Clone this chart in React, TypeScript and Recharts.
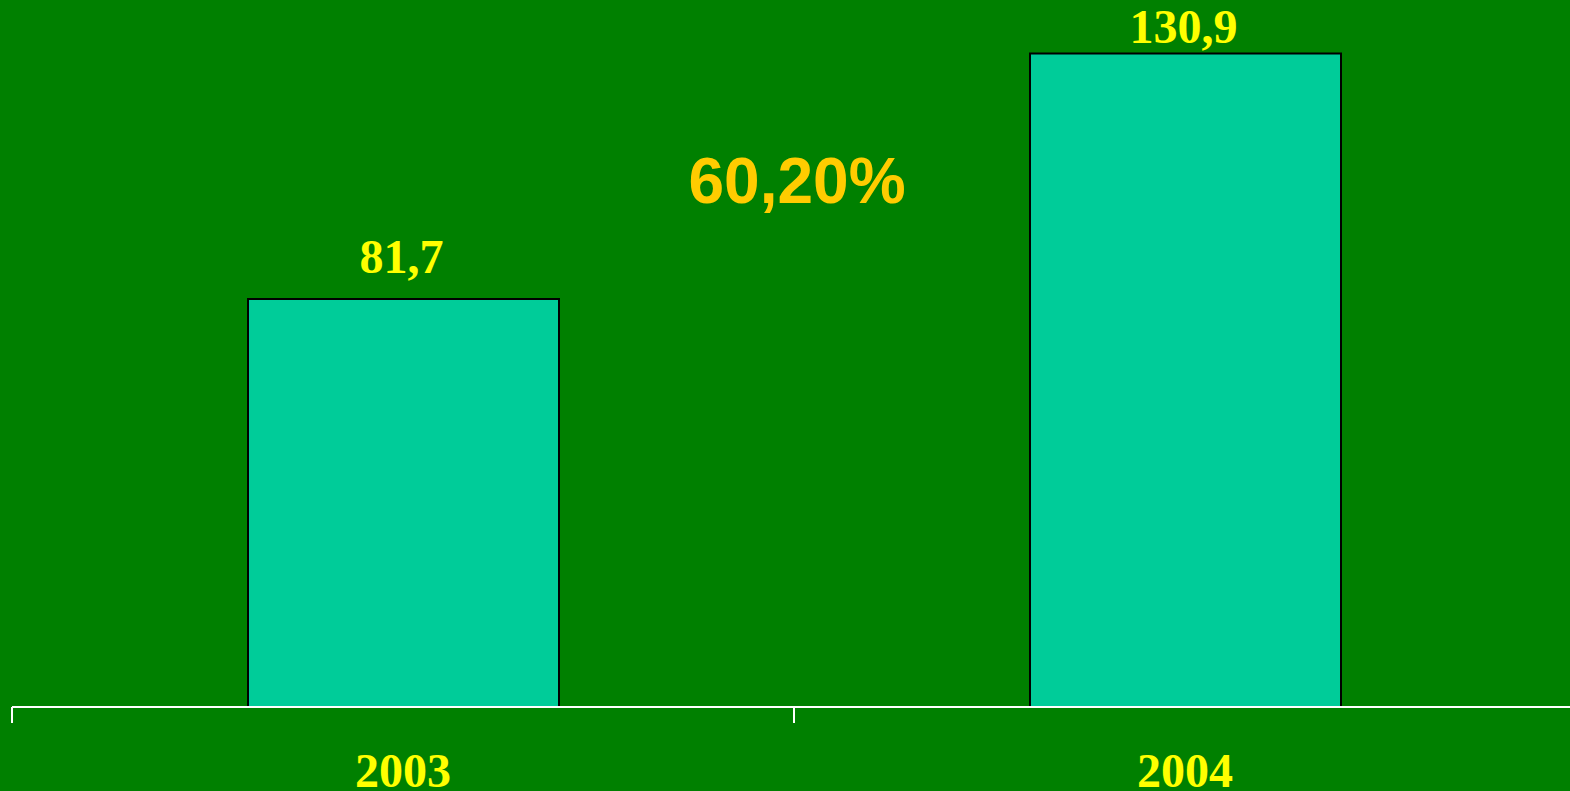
import { BarChart, Bar, XAxis, YAxis, LabelList } from 'recharts';

const YEARS = ['2003', '2004'];
const VALUES = [81.7, 130.9];
const GROWTH_LABEL = '60,20%';

const BG = '#008000';
const BAR_FILL = '#00CC99';
const LABEL_YELLOW = '#FFFF00';
const GROWTH_COLOR = '#FFCC00';

const data = YEARS.map((year, i) => ({ year, value: VALUES[i] }));

const fmt = (v: number) => v.toFixed(1).replace('.', ',');

function YearTick(props: any) {
  const { x, y, payload } = props;
  const half = payload?.offset ?? 0;
  return (
    <g>
      {/* tick mark sits on the category boundary, label in the middle */}
      <line x1={x - half} x2={x - half} y1={y - 18} y2={y - 2} stroke="#ffffff" strokeWidth={2} />
      <text
        x={x}
        y={y}
        dy={62}
        textAnchor="middle"
        fill={LABEL_YELLOW}
        fontFamily="'Liberation Serif', 'Times New Roman', serif"
        fontWeight="bold"
        fontSize={48}
      >
        {payload.value}
      </text>
    </g>
  );
}

function ValueLabel(props: any) {
  const { x, y, width, value } = props;
  const baseline = Math.max(y - 26, 43);
  return (
    <text
      x={x + width / 2 - 2}
      y={baseline}
      textAnchor="middle"
      fill={LABEL_YELLOW}
      fontFamily="'Liberation Serif', 'Times New Roman', serif"
      fontWeight="bold"
      fontSize={48}
    >
      {fmt(value)}
    </text>
  );
}

export default function App() {
  return (
    <div
      style={{
        position: 'fixed',
        left: 0,
        top: 0,
        width: 1570,
        height: 791,
        overflow: 'hidden',
        background: BG,
      }}
    >
      <BarChart
        width={1576}
        height={791}
        data={data}
        margin={{ top: 8, right: 0, bottom: 0, left: 12 }}
      >
        <XAxis
          dataKey="year"
          height={84}
          axisLine={{ stroke: '#ffffff', strokeWidth: 2 }}
          tickLine={false}
          tickSize={16}
          tickMargin={2}
          tick={<YearTick />}
          interval={0}
        />
        <YAxis hide domain={[0, 140]} />
        <Bar
          dataKey="value"
          fill={BAR_FILL}
          stroke="#000000"
          strokeWidth={2}
          barSize={311}
          isAnimationActive={false}
        >
          <LabelList dataKey="value" content={<ValueLabel />} />
        </Bar>
      </BarChart>
      <div
        style={{
          position: 'absolute',
          left: 597,
          width: 400,
          top: 149,
          lineHeight: '64px',
          textAlign: 'center',
          fontFamily: "'Liberation Sans', Arial, sans-serif",
          fontWeight: 'bold',
          fontSize: 64,
          color: GROWTH_COLOR,
        }}
      >
        {GROWTH_LABEL}
      </div>
    </div>
  );
}
